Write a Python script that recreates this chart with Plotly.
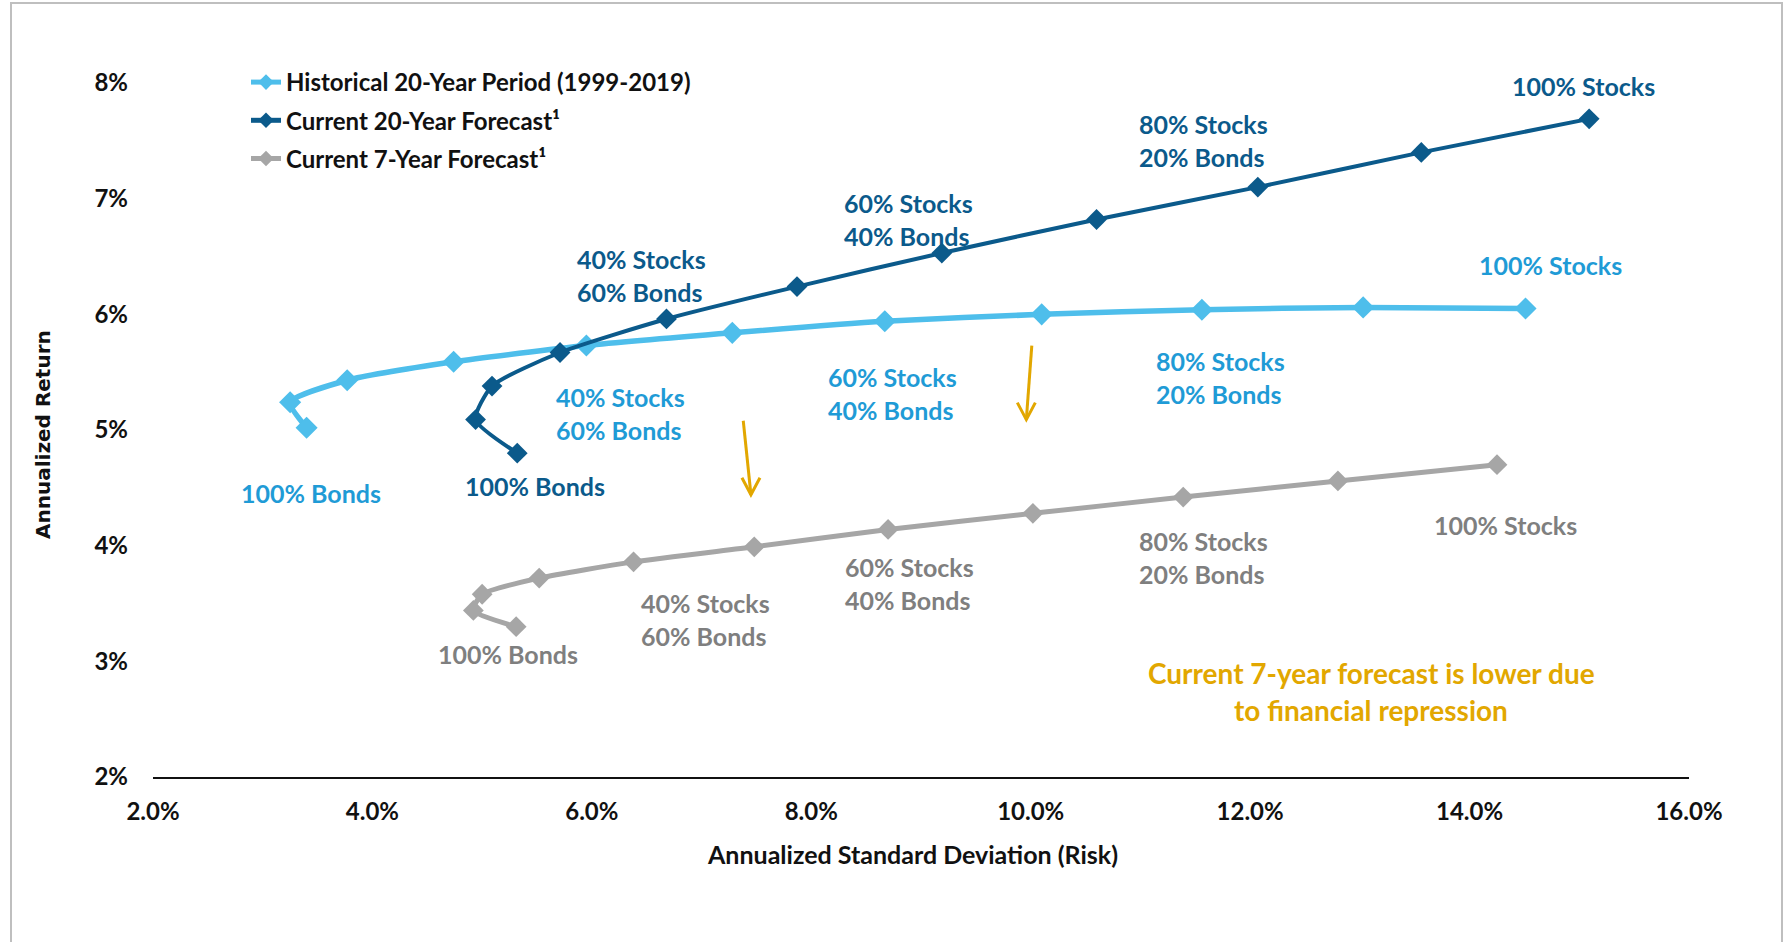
import plotly.graph_objects as go

# Risk (annualized standard deviation, %) and return (%) for portfolios
# running from 100% bonds (first point) to 100% stocks (last point) in 10% steps.
hist_risk = [3.40, 3.25, 3.77, 4.74, 5.95, 7.28, 8.67, 10.10, 11.56, 13.03, 14.51]
hist_ret = [5.02, 5.24, 5.43, 5.59, 5.73, 5.84, 5.94, 6.00, 6.04, 6.06, 6.05]

fc20_risk = [5.32, 4.94, 5.09, 5.71, 6.68, 7.87, 9.19, 10.60, 12.07, 13.56, 15.09]
fc20_ret = [4.80, 5.09, 5.38, 5.67, 5.96, 6.24, 6.53, 6.82, 7.10, 7.40, 7.69]

fc7_risk = [5.31, 4.92, 5.00, 5.52, 6.38, 7.48, 8.70, 10.02, 11.39, 12.80, 14.25]
fc7_ret = [3.30, 3.44, 3.58, 3.72, 3.86, 3.99, 4.14, 4.28, 4.42, 4.56, 4.70]

series_names = [
    "Historical 20-Year Period (1999-2019)",
    "Current 20-Year Forecast¹",
    "Current 7-Year Forecast¹",
]

x_ticks = [2, 4, 6, 8, 10, 12, 14, 16]
y_ticks = [2, 3, 4, 5, 6, 7, 8]

LIGHT = "#4EBEEB"
LIGHT_TXT = "#1F9BD6"
DARK = "#0B5A8B"
GREY = "#A6A6A6"
GREY_TXT = "#7F7F7F"
GOLD = "#E2A700"
FONT = "Lato"

W, H = 1784, 942
ML, MR, MT, MB = 153, 95, 83, 165
PW, PH = W - ML - MR, H - MT - MB


def px_x(px):
    return (px - ML) / PW


def px_y(py):
    return (H - MB - py) / PH


fig = go.Figure()

series = [
    (hist_risk, hist_ret, LIGHT, 5.5, 17),
    (fc20_risk, fc20_ret, DARK, 4, 16),
    (fc7_risk, fc7_ret, GREY, 5, 16),
]
for i, (xs, ys, col, lw, ms) in enumerate(series):
    fig.add_trace(go.Scatter(
        x=xs, y=ys, name=series_names[i], legendgroup=f"g{i}",
        mode="lines+markers",
        line=dict(color=col, width=lw, shape="spline", smoothing=0.6),
        marker=dict(symbol="diamond", size=ms, color=col),
    ))

# Allocation labels: (series data, point index, lines, colour, anchor, dx, dy)
# dx/dy are pixel offsets from the point (dy positive = downwards).
labels = [
    (hist_risk, hist_ret, 0, ["100% Bonds"], LIGHT_TXT, "center", 4, 65),
    (hist_risk, hist_ret, 4, ["40% Stocks", "60% Bonds"], LIGHT_TXT, "left", -32, 68),
    (hist_risk, hist_ret, 6, ["60% Stocks", "40% Bonds"], LIGHT_TXT, "left", -59, 72),
    (hist_risk, hist_ret, 8, ["80% Stocks", "20% Bonds"], LIGHT_TXT, "left", -48, 68),
    (hist_risk, hist_ret, 10, ["100% Stocks"], LIGHT_TXT, "center", 25, -44),
    (fc20_risk, fc20_ret, 0, ["100% Bonds"], DARK, "center", 18, 33),
    (fc20_risk, fc20_ret, 4, ["40% Stocks", "60% Bonds"], DARK, "left", -91, -43),
    (fc20_risk, fc20_ret, 6, ["60% Stocks", "40% Bonds"], DARK, "left", -100, -34),
    (fc20_risk, fc20_ret, 8, ["80% Stocks", "20% Bonds"], DARK, "left", -121, -47),
    (fc20_risk, fc20_ret, 10, ["100% Stocks"], DARK, "center", -6, -33),
    (fc7_risk, fc7_ret, 0, ["100% Bonds"], GREY_TXT, "center", -8, 27),
    (fc7_risk, fc7_ret, 4, ["40% Stocks", "60% Bonds"], GREY_TXT, "left", 5, 58),
    (fc7_risk, fc7_ret, 6, ["60% Stocks", "40% Bonds"], GREY_TXT, "left", -45, 54),
    (fc7_risk, fc7_ret, 8, ["80% Stocks", "20% Bonds"], GREY_TXT, "left", -46, 60),
    (fc7_risk, fc7_ret, 10, ["100% Stocks"], GREY_TXT, "center", 8, 60),
]
LINE_GAP = 33
for xs, ys, idx, lines, col, anchor, dx, dy in labels:
    n = len(lines)
    for k, txt in enumerate(lines):
        off = dy + (k - (n - 1) / 2) * LINE_GAP
        fig.add_annotation(
            x=xs[idx], y=ys[idx], xref="x", yref="y", text=txt, showarrow=False,
            xanchor=anchor, yanchor="middle", xshift=dx, yshift=-off,
            font=dict(family=FONT, size=25, color=col, weight="bold"),
        )

# Downward arrows showing the shift to the lower 7-year forecast
arrows = [((7.38, 5.08), (7.45, 4.44)), ((10.01, 5.73), (9.96, 5.09))]
for (x0, y0), (x1, y1) in arrows:
    fig.add_shape(type="line", x0=x0, y0=y0, x1=x1, y1=y1, xref="x", yref="y",
                  line=dict(color=GOLD, width=3))
    fig.add_shape(type="path", xref="x", yref="y", xsizemode="pixel", ysizemode="pixel",
                  xanchor=x1, yanchor=y1, path="M -9 17 L 0 0 L 9 17",
                  line=dict(color=GOLD, width=3))

# Commentary note, one annotation per line
note_lines = ["Current 7-year forecast is lower due", "to financial repression"]
for k, txt in enumerate(note_lines):
    fig.add_annotation(
        x=px_x(1371), y=px_y(673 + 37 * k), xref="paper", yref="paper",
        text=txt, showarrow=False, xanchor="center", yanchor="middle",
        font=dict(family=FONT, size=28, color=GOLD, weight="bold"),
    )

# Axis titles
fig.add_annotation(
    x=px_x(912), y=px_y(854), xref="paper", yref="paper",
    text="Annualized Standard Deviation (Risk)",
    showarrow=False, xanchor="center", yanchor="middle",
    font=dict(family=FONT, size=25, color="#111111", weight="bold"),
)
fig.add_annotation(
    x=px_x(43), y=px_y(435), xref="paper", yref="paper",
    text="Annualized Return", textangle=-90,
    showarrow=False, xanchor="center", yanchor="middle",
    font=dict(family="DejaVu Sans", size=20, color="#111111", weight="bold"),
)

# Outer frame
fig.add_shape(type="rect", xref="paper", yref="paper",
              x0=px_x(11), x1=px_x(1782), y0=px_y(990), y1=px_y(3),
              line=dict(color="#BFBFBF", width=2), layer="below")

fig.update_layout(
    width=W, height=H,
    margin=dict(l=ML, r=MR, t=MT, b=MB),
    paper_bgcolor="white", plot_bgcolor="white",
    font=dict(family=FONT, color="#111111"),
    showlegend=True,
    legend=dict(
        x=px_x(246), y=px_y(60),
        xanchor="left", yanchor="top", bgcolor="rgba(0,0,0,0)",
        font=dict(family=FONT, size=24, color="#111111", weight="bold"),
        tracegroupgap=4, itemsizing="constant",
    ),
    xaxis=dict(
        range=[2, 16], tickvals=x_ticks, ticktext=[f"{v:.1f}%" for v in x_ticks],
        showgrid=False, zeroline=False, showline=True, linecolor="#111111", linewidth=2,
        ticks="", ticklabelstandoff=12,
        tickfont=dict(family=FONT, size=24, color="#111111", weight="bold"),
    ),
    yaxis=dict(
        range=[2, 8], tickvals=y_ticks, ticktext=[f"{v}%" for v in y_ticks],
        showgrid=False, zeroline=False, showline=False,
        ticks="", ticklabelstandoff=24,
        tickfont=dict(family=FONT, size=24, color="#111111", weight="bold"),
    ),
)

fig.write_html("out.html")
